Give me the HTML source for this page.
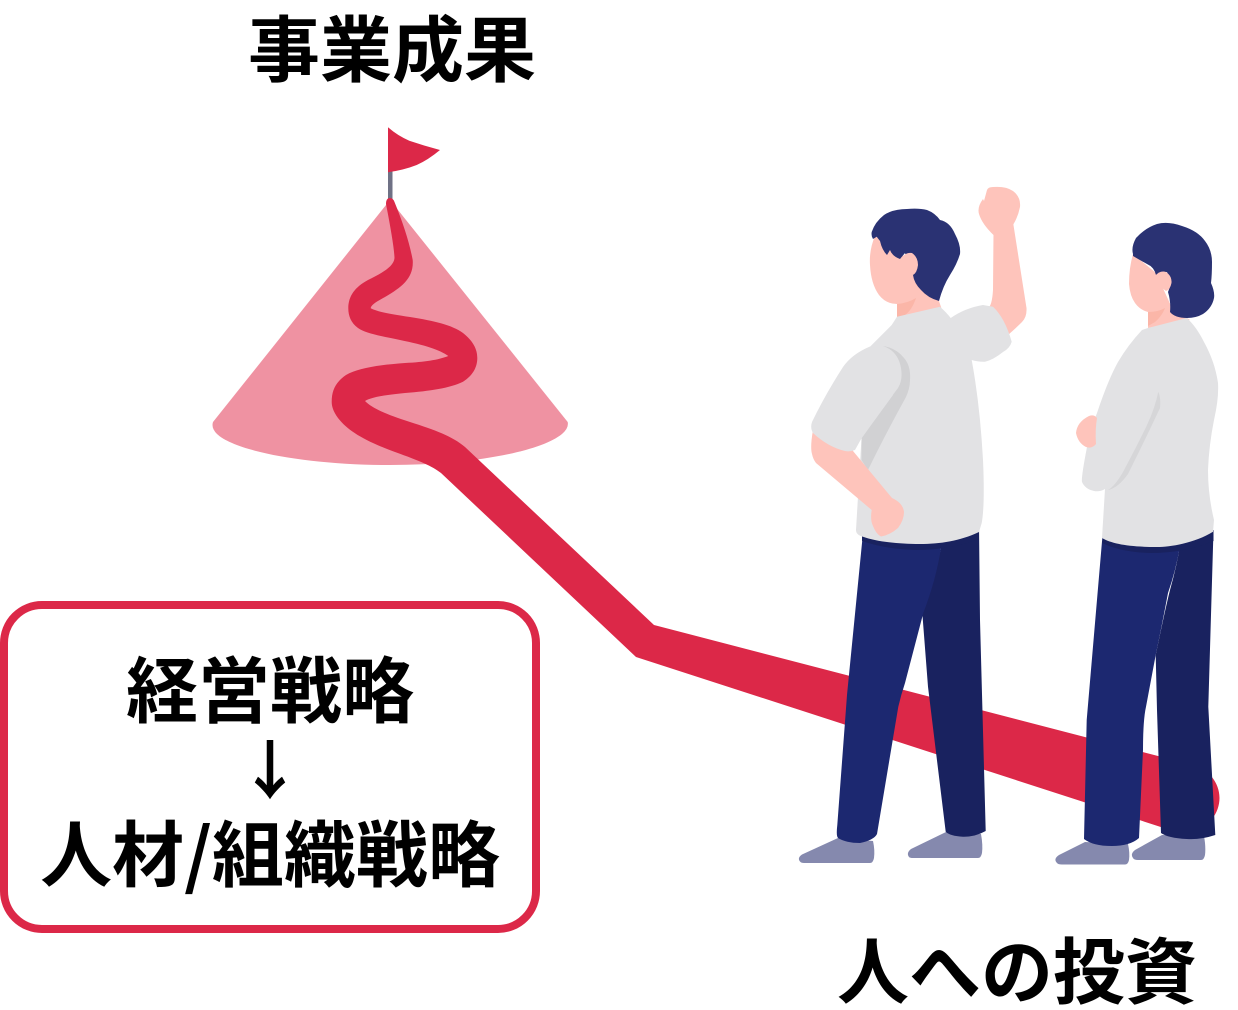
<!DOCTYPE html>
<html lang="ja"><head><meta charset="utf-8"><style>
html,body{margin:0;padding:0;background:#fff}
svg{display:block}
text{font-family:"Noto Sans CJK JP","Liberation Sans",sans-serif;font-weight:700;font-size:72px;fill:#000}
</style></head><body>
<svg width="1238" height="1010" viewBox="0 0 1238 1010" xmlns="http://www.w3.org/2000/svg">
<!-- mountain -->
<path d="M390 200L567.7 422Q569 428 562 434C540 452 470 465 390 465C310 465 236 452 217 434Q211 428 213 422Z" fill="#ef92a2"/>
<rect x="388" y="170" width="4.5" height="36" fill="#6f7185"/>
<path d="M388 127.3Q398 136 409.3 140.7Q425 146 440 150Q428 160 416.7 165Q404 170 388 172.3Z" fill="#dc2848"/>
<!-- road -->
<path d="M390 198Q393 198 394.5 202Q408 235 412.7 260C414 278 402 287 385 297C376 302 371 305 370.7 308.3C378 312 390 314 410 317C435 321 452 325 463 333C473 341 477.3 349 477.3 358C477.3 368 472 376 463 381.7C450 388 430 391 405 393C385 395 372 397 365 401C372 408 385 414 410 422C435 430 452 436 465 447L654 625L1158 756L1197 767C1208 770 1219.5 782 1219.5 798C1219.5 812 1210 830 1183 834L1160 826.7L636 657L441 473C432 466 420 461 395 452C365 441 348 431 338 418C333 411 331.7 406 331.7 401.7C331.7 390 336 382 346 375C358 368 378 365 405 363C425 362 438 360 448.3 356C440 350 425 345 400 340C380 336 365 333 358 328C351 323 348.3 316 348.3 308.3C348.3 296 355 287 368 280C380 274 394 267 394.5 258Q394 245 386 204Q386 198 390 198Z" fill="#dc2848"/>
<!-- shoes -->
<g fill="#8589ae">
<path d="M838 838L802 854.5Q797 858 800 861.5Q801 863 804 863L870 863Q873 863 874 858Q875 850 873 841Z"/>
<path d="M946 832L911 849Q906 853 909 857Q910 858 913 858L978 858Q981 858 982 853Q983 845 981 834Z"/>
<path d="M1085 842L1059 855Q1053 859 1057 863Q1058 864.5 1062 864.5L1125 864.5Q1128 864.5 1129 860Q1130 853 1128 844Z"/>
<path d="M1162 835L1135 850Q1130 854 1133 858Q1134 860 1138 860L1201 860Q1204 860 1205 855Q1206 847 1204 836Z"/>
</g>
<!-- pants -->
<path d="M945 525L979 525L980 620L985.7 831Q975 837 963 836.7Q950 836 945.7 831.7L928 686.7L922.3 613Q935 575 941 548Z" fill="#19225f"/>
<path d="M863 525L945 525L941 548Q936 580 923.3 613L905 683Q901 695 898.3 706.7L877 834Q874 840 860 843Q846 843 838 838Q836 836 837.3 825L847 695L862.7 536Z" fill="#1c2870"/>
<path d="M862 530L979 528L979 539Q950 550 915 550Q885 549 862 541Z" fill="#19225f"/>
<path d="M1183 532L1213.5 530L1208.3 706.7L1215.3 835Q1200 840 1186.7 839Q1168 838 1161 833L1157 710L1155.7 655Q1165 610 1170 590Q1177 565 1180 545Z" fill="#19225f"/>
<path d="M1103 534L1183 534L1180 546Q1176 570 1168 593Q1162 625 1155.7 655L1146 706.7Q1143 720 1143 750L1139 838Q1130 846 1111.7 846Q1093 846 1084 839L1086.7 720L1102.3 538Z" fill="#1c2870"/>
<path d="M1103 536L1213.5 530L1213.5 541Q1185 553 1150 553Q1120 552 1102.300 543Z" fill="#19225f"/>
<!-- person 1 -->
<path d="M993.5 233L1013 222L1026.5 308Q1027 317 1022 322Q1016 328 1008 335L988 308Q992 306 993 290Z" fill="#fec4bb"/>
<path d="M987 190Q988 187 993 187Q1006 186 1013 191Q1021 197 1020 207Q1018 217 1013 225L993.5 235Q982 224 979 214Q977 207 983 199L984 201Z" fill="#fec4bb"/>
<path d="M875 236Q869 250 870 265Q871 284 879 295Q886 304 897 304L897 320L942 310L938 298L916 265Z" fill="#fec4bb"/>
<path d="M897 304Q908 303 916 298Q912 310 905 315L897 318Z" fill="#fbb6a8"/>
<path d="M871.7 232Q875 222 884 215Q893 209 907 209Q919 208 927 210Q935 213 940 220Q950 222 955 234Q961 245 960 254Q957 264 950 275Q943 286 939 301Q928 298 921 290Q914 283 913 275L905 253L900 259Q892 256 890 250L887 255Q882 250 880 241L876.7 236.7L873 239Q871 236 871.7 232Z" fill="#2a3273"/>
<path d="M901 258Q906 252 912 253Q918 257 918 265Q917 273 913 275Q905 270 901 258Z" fill="#fec4bb"/>
<path d="M897 316.7L940 306.7Q947 313 950.7 318Q965 308 983 305L993 306.7Q1005 318 1011.7 341.7Q1010 348 1003 352Q993 360 985 361.7Q978 362 971.7 360Q980 405 983 460Q985 505 981.7 523L979 532C960 541 940 544 920 544C895 544 875 541 863 536.7Q856 535 856 530L861.5 438L865 400L870 346.7L891.7 325Z" fill="#e2e2e4"/>
<path d="M883 346Q896 348 904 358Q911 366 910 380Q910 388 906 397Q885 435 868 470L861.5 460L861.7 438L893 395Z" fill="#d1d1d3"/>
<path d="M813 430Q810 447 812 454Q813 459 816 463L871.7 510Q870 520 873 526Q876 534 881 536.5Q890 535 898 528Q904 520 904 512Q903 503 892 498L853 451L850 440Z" fill="#fec4bb"/>
<path d="M870 346.5Q877 345 883 346Q898 351 901 368Q903 380 898 388Q880 412 861.7 438L855 450Q850 452 845 451Q828 447 813 433Q810 428 812 422Q825 395 843 367Q852 354 870 346.5Z" fill="#e2e2e4"/>
<!-- person 2 -->
<path d="M1133 254Q1129 268 1129 284Q1130 296 1135 303Q1140 310 1148 312L1148 328L1190 320L1172 308L1156 273Z" fill="#fec4bb"/>
<path d="M1148 312Q1158 312 1165 308Q1162 316 1155 322L1148 326Z" fill="#fbb6a8"/>
<path d="M1133 254Q1131 247 1136 238Q1145 228 1157 224Q1168 221 1182 226Q1198 231 1205 241Q1212 250 1212 262Q1212 275 1211 283Q1215 292 1214 298Q1212 308 1203 314Q1196 318 1187 318Q1175 318 1170 312Q1171 302 1168 292L1171 284L1167 272L1156 275Q1154 267 1147 264Q1138 259 1133 256Z" fill="#2a3273"/>
<path d="M1155 276Q1160 270 1166 272Q1172 276 1171.5 283Q1170 290 1166 291Q1158 286 1155 276Z" fill="#fec4bb"/>
<path d="M1148 328L1186.7 318Q1196 326 1204 342Q1215 362 1218 383Q1219 398 1214 420Q1209 445 1208 470Q1208 495 1214 520L1213 531.7C1195 543 1170 547 1157 547C1130 547 1112 544 1102 538L1105 489Q1100 492 1094 491Q1085 489 1082 482Q1081 478 1087 447Q1092 425 1097 413Q1108 380 1118 362Q1128 345 1142 330Z" fill="#e2e2e4"/>
<path d="M1158.3 391.7Q1161 398 1160 408Q1145 440 1128 474Q1118 488 1108 490Q1115 486 1123 472Q1140 440 1147 425Q1155 408 1158.3 391.7Z" fill="#d6d6d8"/>
<path d="M1089 416Q1094 414 1097 418Q1095 430 1096 444Q1092 449 1086 447Q1078 443 1076 433Q1077 422 1089 416Z" fill="#fec4bb"/>
<!-- box -->
<rect x="4" y="605" width="532" height="324" rx="38" ry="38" fill="#fff" stroke="#dc2848" stroke-width="8"/>
<!-- labels -->
<text x="392" y="76" text-anchor="middle">事業成果</text>
<text x="270" y="717" text-anchor="middle">経営戦略</text>
<text x="270" y="794" text-anchor="middle" style="font-size:64px">↓</text>
<text x="270" y="881" text-anchor="middle">人材/組織戦略</text>
<text x="1017" y="998" text-anchor="middle">人への投資</text>
</svg>
</body></html>
